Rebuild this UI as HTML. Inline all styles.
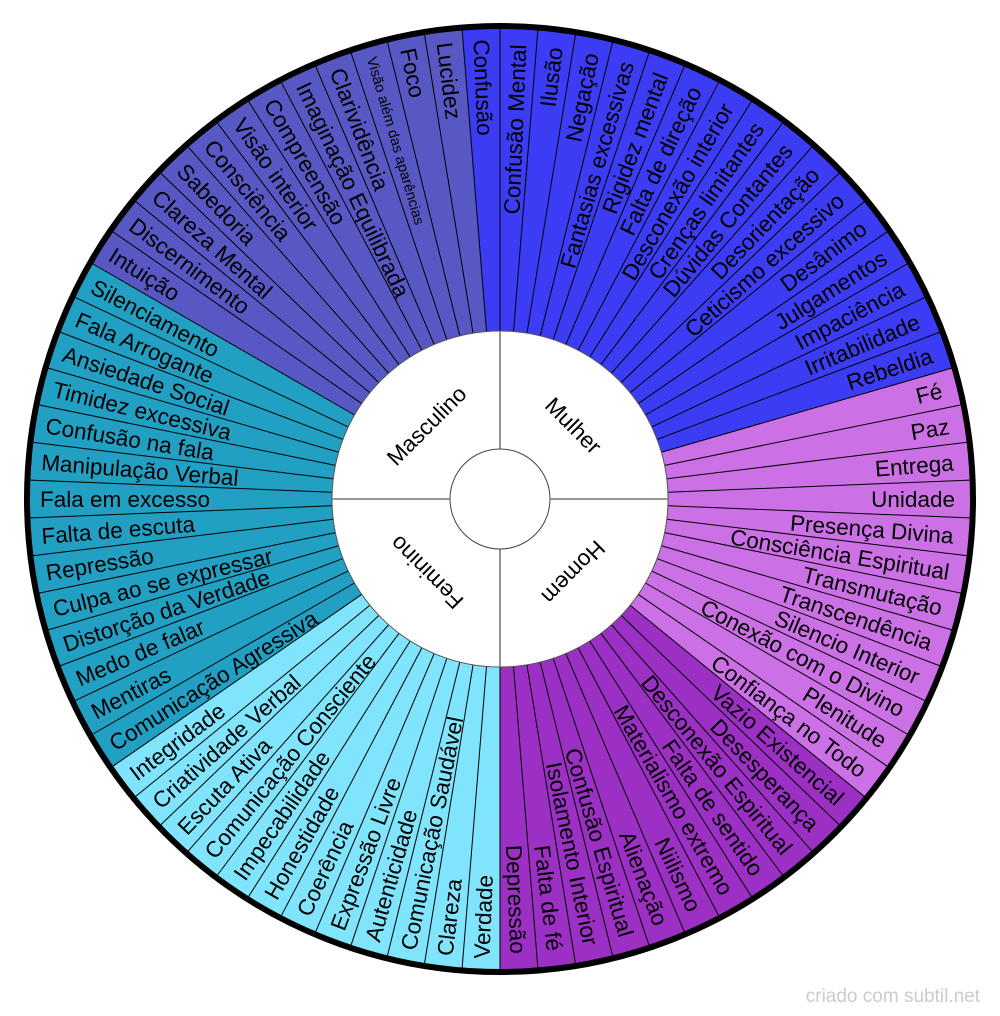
<!DOCTYPE html>
<html><head><meta charset="utf-8"><style>
html,body{margin:0;padding:0;background:#fff;}
svg{display:block;}
text{font-family:"Liberation Sans",Arial,sans-serif;fill:#000;}
.r{font-size:22.5px;text-anchor:end;}
.l{font-size:22.5px;text-anchor:start;}
</style></head><body>
<svg width="1000" height="1016" viewBox="0 0 1000 1016" xmlns="http://www.w3.org/2000/svg">
<path d="M500,499 L461.94,27.53 A473,473 0 0 1 954.33,367.4 Z" fill="#3c3cf5"/>
<path d="M500,499 L954.33,367.4 A473,473 0 0 1 866.41,798.14 Z" fill="#cc70e6"/>
<path d="M500,499 L866.41,798.14 A473,473 0 0 1 500,972 Z" fill="#9c30c4"/>
<path d="M500,499 L500,972 A473,473 0 0 1 110.73,767.69 Z" fill="#80e4fc"/>
<path d="M500,499 L110.73,767.69 A473,473 0 0 1 90.37,262.5 Z" fill="#22a0c4"/>
<path d="M500,499 L90.37,262.5 A473,473 0 0 1 461.94,27.53 Z" fill="#5858c4"/>
<g stroke="#000" stroke-width="1">
<line x1="500" y1="331" x2="500" y2="26" transform="rotate(0 500 499)"/>
<line x1="500" y1="331" x2="500" y2="26" transform="rotate(4.615 500 499)"/>
<line x1="500" y1="331" x2="500" y2="26" transform="rotate(9.231 500 499)"/>
<line x1="500" y1="331" x2="500" y2="26" transform="rotate(13.846 500 499)"/>
<line x1="500" y1="331" x2="500" y2="26" transform="rotate(18.462 500 499)"/>
<line x1="500" y1="331" x2="500" y2="26" transform="rotate(23.077 500 499)"/>
<line x1="500" y1="331" x2="500" y2="26" transform="rotate(27.692 500 499)"/>
<line x1="500" y1="331" x2="500" y2="26" transform="rotate(32.308 500 499)"/>
<line x1="500" y1="331" x2="500" y2="26" transform="rotate(36.923 500 499)"/>
<line x1="500" y1="331" x2="500" y2="26" transform="rotate(41.538 500 499)"/>
<line x1="500" y1="331" x2="500" y2="26" transform="rotate(46.154 500 499)"/>
<line x1="500" y1="331" x2="500" y2="26" transform="rotate(50.769 500 499)"/>
<line x1="500" y1="331" x2="500" y2="26" transform="rotate(55.385 500 499)"/>
<line x1="500" y1="331" x2="500" y2="26" transform="rotate(60 500 499)"/>
<line x1="500" y1="331" x2="500" y2="26" transform="rotate(64.615 500 499)"/>
<line x1="500" y1="331" x2="500" y2="26" transform="rotate(69.231 500 499)"/>
<line x1="500" y1="331" x2="500" y2="26" transform="rotate(73.846 500 499)"/>
<line x1="500" y1="331" x2="500" y2="26" transform="rotate(78.462 500 499)"/>
<line x1="500" y1="331" x2="500" y2="26" transform="rotate(83.077 500 499)"/>
<line x1="500" y1="331" x2="500" y2="26" transform="rotate(87.692 500 499)"/>
<line x1="500" y1="331" x2="500" y2="26" transform="rotate(92.308 500 499)"/>
<line x1="500" y1="331" x2="500" y2="26" transform="rotate(96.923 500 499)"/>
<line x1="500" y1="331" x2="500" y2="26" transform="rotate(101.538 500 499)"/>
<line x1="500" y1="331" x2="500" y2="26" transform="rotate(106.154 500 499)"/>
<line x1="500" y1="331" x2="500" y2="26" transform="rotate(110.769 500 499)"/>
<line x1="500" y1="331" x2="500" y2="26" transform="rotate(115.385 500 499)"/>
<line x1="500" y1="331" x2="500" y2="26" transform="rotate(120 500 499)"/>
<line x1="500" y1="331" x2="500" y2="26" transform="rotate(124.615 500 499)"/>
<line x1="500" y1="331" x2="500" y2="26" transform="rotate(129.231 500 499)"/>
<line x1="500" y1="331" x2="500" y2="26" transform="rotate(133.846 500 499)"/>
<line x1="500" y1="331" x2="500" y2="26" transform="rotate(138.462 500 499)"/>
<line x1="500" y1="331" x2="500" y2="26" transform="rotate(143.077 500 499)"/>
<line x1="500" y1="331" x2="500" y2="26" transform="rotate(147.692 500 499)"/>
<line x1="500" y1="331" x2="500" y2="26" transform="rotate(152.308 500 499)"/>
<line x1="500" y1="331" x2="500" y2="26" transform="rotate(156.923 500 499)"/>
<line x1="500" y1="331" x2="500" y2="26" transform="rotate(161.538 500 499)"/>
<line x1="500" y1="331" x2="500" y2="26" transform="rotate(166.154 500 499)"/>
<line x1="500" y1="331" x2="500" y2="26" transform="rotate(170.769 500 499)"/>
<line x1="500" y1="331" x2="500" y2="26" transform="rotate(175.385 500 499)"/>
<line x1="500" y1="331" x2="500" y2="26" transform="rotate(180 500 499)"/>
<line x1="500" y1="331" x2="500" y2="26" transform="rotate(184.615 500 499)"/>
<line x1="500" y1="331" x2="500" y2="26" transform="rotate(189.231 500 499)"/>
<line x1="500" y1="331" x2="500" y2="26" transform="rotate(193.846 500 499)"/>
<line x1="500" y1="331" x2="500" y2="26" transform="rotate(198.462 500 499)"/>
<line x1="500" y1="331" x2="500" y2="26" transform="rotate(203.077 500 499)"/>
<line x1="500" y1="331" x2="500" y2="26" transform="rotate(207.692 500 499)"/>
<line x1="500" y1="331" x2="500" y2="26" transform="rotate(212.308 500 499)"/>
<line x1="500" y1="331" x2="500" y2="26" transform="rotate(216.923 500 499)"/>
<line x1="500" y1="331" x2="500" y2="26" transform="rotate(221.538 500 499)"/>
<line x1="500" y1="331" x2="500" y2="26" transform="rotate(226.154 500 499)"/>
<line x1="500" y1="331" x2="500" y2="26" transform="rotate(230.769 500 499)"/>
<line x1="500" y1="331" x2="500" y2="26" transform="rotate(235.385 500 499)"/>
<line x1="500" y1="331" x2="500" y2="26" transform="rotate(240 500 499)"/>
<line x1="500" y1="331" x2="500" y2="26" transform="rotate(244.615 500 499)"/>
<line x1="500" y1="331" x2="500" y2="26" transform="rotate(249.231 500 499)"/>
<line x1="500" y1="331" x2="500" y2="26" transform="rotate(253.846 500 499)"/>
<line x1="500" y1="331" x2="500" y2="26" transform="rotate(258.462 500 499)"/>
<line x1="500" y1="331" x2="500" y2="26" transform="rotate(263.077 500 499)"/>
<line x1="500" y1="331" x2="500" y2="26" transform="rotate(267.692 500 499)"/>
<line x1="500" y1="331" x2="500" y2="26" transform="rotate(272.308 500 499)"/>
<line x1="500" y1="331" x2="500" y2="26" transform="rotate(276.923 500 499)"/>
<line x1="500" y1="331" x2="500" y2="26" transform="rotate(281.538 500 499)"/>
<line x1="500" y1="331" x2="500" y2="26" transform="rotate(286.154 500 499)"/>
<line x1="500" y1="331" x2="500" y2="26" transform="rotate(290.769 500 499)"/>
<line x1="500" y1="331" x2="500" y2="26" transform="rotate(295.385 500 499)"/>
<line x1="500" y1="331" x2="500" y2="26" transform="rotate(300 500 499)"/>
<line x1="500" y1="331" x2="500" y2="26" transform="rotate(304.615 500 499)"/>
<line x1="500" y1="331" x2="500" y2="26" transform="rotate(309.231 500 499)"/>
<line x1="500" y1="331" x2="500" y2="26" transform="rotate(313.846 500 499)"/>
<line x1="500" y1="331" x2="500" y2="26" transform="rotate(318.462 500 499)"/>
<line x1="500" y1="331" x2="500" y2="26" transform="rotate(323.077 500 499)"/>
<line x1="500" y1="331" x2="500" y2="26" transform="rotate(327.692 500 499)"/>
<line x1="500" y1="331" x2="500" y2="26" transform="rotate(332.308 500 499)"/>
<line x1="500" y1="331" x2="500" y2="26" transform="rotate(336.923 500 499)"/>
<line x1="500" y1="331" x2="500" y2="26" transform="rotate(341.538 500 499)"/>
<line x1="500" y1="331" x2="500" y2="26" transform="rotate(346.154 500 499)"/>
<line x1="500" y1="331" x2="500" y2="26" transform="rotate(350.769 500 499)"/>
<line x1="500" y1="331" x2="500" y2="26" transform="rotate(355.385 500 499)"/>
</g>
<text class="r" x="955" y="507" transform="rotate(-87.69 500 499)">Confusão Mental</text>
<text class="r" x="955" y="507" transform="rotate(-83.08 500 499)">Ilusão</text>
<text class="r" x="955" y="507" transform="rotate(-78.46 500 499)">Negação</text>
<text class="r" x="955" y="507" transform="rotate(-73.85 500 499)">Fantasias excessivas</text>
<text class="r" x="955" y="507" transform="rotate(-69.23 500 499)">Rigidez mental</text>
<text class="r" x="955" y="507" transform="rotate(-64.62 500 499)">Falta de direção</text>
<text class="r" x="955" y="507" transform="rotate(-60 500 499)">Desconexão interior</text>
<text class="r" x="955" y="507" transform="rotate(-55.38 500 499)">Crenças limitantes</text>
<text class="r" x="955" y="507" transform="rotate(-50.77 500 499)">Dúvidas Contantes</text>
<text class="r" x="955" y="507" transform="rotate(-46.15 500 499)">Desorientação</text>
<text class="r" x="955" y="507" transform="rotate(-41.54 500 499)">Ceticismo excessivo</text>
<text class="r" x="955" y="507" transform="rotate(-36.92 500 499)">Desânimo</text>
<text class="r" x="955" y="507" transform="rotate(-32.31 500 499)">Julgamentos</text>
<text class="r" x="955" y="507" transform="rotate(-27.69 500 499)">Impaciência</text>
<text class="r" x="955" y="507" transform="rotate(-23.08 500 499)">Irritabilidade</text>
<text class="r" x="955" y="507" transform="rotate(-18.46 500 499)">Rebeldia</text>
<text class="r" x="955" y="507" transform="rotate(-13.85 500 499)">Fé</text>
<text class="r" x="955" y="507" transform="rotate(-9.23 500 499)">Paz</text>
<text class="r" x="955" y="507" transform="rotate(-4.62 500 499)">Entrega</text>
<text class="r" x="955" y="507" transform="rotate(0 500 499)">Unidade</text>
<text class="r" x="955" y="507" transform="rotate(4.62 500 499)">Presença Divina</text>
<text class="r" x="955" y="507" transform="rotate(9.23 500 499)">Consciência Espiritual</text>
<text class="r" x="955" y="507" transform="rotate(13.85 500 499)">Transmutação</text>
<text class="r" x="955" y="507" transform="rotate(18.46 500 499)">Transcendência</text>
<text class="r" x="955" y="507" transform="rotate(23.08 500 499)">Silencio Interior</text>
<text class="r" x="955" y="507" transform="rotate(27.69 500 499)">Conexão com o Divino</text>
<text class="r" x="955" y="507" transform="rotate(32.31 500 499)">Plenitude</text>
<text class="r" x="955" y="507" transform="rotate(36.92 500 499)">Confiança no Todo</text>
<text class="r" x="955" y="507" transform="rotate(41.54 500 499)">Vazio Existencial</text>
<text class="r" x="955" y="507" transform="rotate(46.15 500 499)">Desesperança</text>
<text class="r" x="955" y="507" transform="rotate(50.77 500 499)">Desconexão Espiritual</text>
<text class="r" x="955" y="507" transform="rotate(55.38 500 499)">Falta de sentido</text>
<text class="r" x="955" y="507" transform="rotate(60 500 499)">Materialismo extremo</text>
<text class="r" x="955" y="507" transform="rotate(64.62 500 499)">Niilismo</text>
<text class="r" x="955" y="507" transform="rotate(69.23 500 499)">Alienação</text>
<text class="r" x="955" y="507" transform="rotate(73.85 500 499)">Confusão Espiritual</text>
<text class="r" x="955" y="507" transform="rotate(78.46 500 499)">Isolamento Interior</text>
<text class="r" x="955" y="507" transform="rotate(83.08 500 499)">Falta de fé</text>
<text class="r" x="955" y="507" transform="rotate(87.69 500 499)">Depressão</text>
<text class="l" x="40" y="507" transform="rotate(-87.69 500 499)">Verdade</text>
<text class="l" x="40" y="507" transform="rotate(-83.08 500 499)">Clareza</text>
<text class="l" x="40" y="507" transform="rotate(-78.46 500 499)">Comunicação Saudável</text>
<text class="l" x="40" y="507" transform="rotate(-73.85 500 499)">Autenticidade</text>
<text class="l" x="40" y="507" transform="rotate(-69.23 500 499)">Expressão Livre</text>
<text class="l" x="40" y="507" transform="rotate(-64.62 500 499)">Coerência</text>
<text class="l" x="40" y="507" transform="rotate(-60 500 499)">Honestidade</text>
<text class="l" x="40" y="507" transform="rotate(-55.38 500 499)">Impecabilidade</text>
<text class="l" x="40" y="507" transform="rotate(-50.77 500 499)">Comunicação Consciente</text>
<text class="l" x="40" y="507" transform="rotate(-46.15 500 499)">Escuta Ativa</text>
<text class="l" x="40" y="507" transform="rotate(-41.54 500 499)">Criatividade Verbal</text>
<text class="l" x="40" y="507" transform="rotate(-36.92 500 499)">Integridade</text>
<text class="l" x="40" y="507" transform="rotate(-32.31 500 499)">Comunicação Agressiva</text>
<text class="l" x="40" y="507" transform="rotate(-27.69 500 499)">Mentiras</text>
<text class="l" x="40" y="507" transform="rotate(-23.08 500 499)">Medo de falar</text>
<text class="l" x="40" y="507" transform="rotate(-18.46 500 499)">Distorção da Verdade</text>
<text class="l" x="40" y="507" transform="rotate(-13.85 500 499)">Culpa ao se expressar</text>
<text class="l" x="40" y="507" transform="rotate(-9.23 500 499)">Repressão</text>
<text class="l" x="40" y="507" transform="rotate(-4.62 500 499)">Falta de escuta</text>
<text class="l" x="40" y="507" transform="rotate(0 500 499)">Fala em excesso</text>
<text class="l" x="40" y="507" transform="rotate(4.62 500 499)">Manipulação Verbal</text>
<text class="l" x="40" y="507" transform="rotate(9.23 500 499)">Confusão na fala</text>
<text class="l" x="40" y="507" transform="rotate(13.85 500 499)">Timidez excessiva</text>
<text class="l" x="40" y="507" transform="rotate(18.46 500 499)">Ansiedade Social</text>
<text class="l" x="40" y="507" transform="rotate(23.08 500 499)">Fala Arrogante</text>
<text class="l" x="40" y="507" transform="rotate(27.69 500 499)">Silenciamento</text>
<text class="l" x="40" y="507" transform="rotate(32.31 500 499)">Intuição</text>
<text class="l" x="40" y="507" transform="rotate(36.92 500 499)">Discernimento</text>
<text class="l" x="40" y="507" transform="rotate(41.54 500 499)">Clareza Mental</text>
<text class="l" x="40" y="507" transform="rotate(46.15 500 499)">Sabedoria</text>
<text class="l" x="40" y="507" transform="rotate(50.77 500 499)">Consciência</text>
<text class="l" x="40" y="507" transform="rotate(55.38 500 499)">Visão interior</text>
<text class="l" x="40" y="507" transform="rotate(60 500 499)">Compreensão</text>
<text class="l" x="40" y="507" transform="rotate(64.62 500 499)">Imaginação Equilibrada</text>
<text class="l" x="40" y="507" transform="rotate(69.23 500 499)">Clarividência</text>
<text class="l" x="40" y="504.5" transform="rotate(73.85 500 499)" style="font-size:14.5px">Visão além das aparências</text>
<text class="l" x="40" y="507" transform="rotate(78.46 500 499)">Foco</text>
<text class="l" x="40" y="507" transform="rotate(83.08 500 499)">Lucidez</text>
<text class="l" x="40" y="507" transform="rotate(87.69 500 499)">Confusão</text>
<circle cx="500" cy="499" r="473" fill="none" stroke="#000" stroke-width="6"/>
<circle cx="500" cy="499" r="168" fill="#fff" stroke="#555" stroke-width="1"/>
<g stroke="#777" stroke-width="1.6">
<line x1="332" y1="499" x2="450" y2="499"/>
<line x1="550" y1="499" x2="668" y2="499"/>
<line x1="500" y1="331" x2="500" y2="449"/>
<line x1="500" y1="549" x2="500" y2="667"/>
</g>
<circle cx="500" cy="499" r="50" fill="#fff" stroke="#444" stroke-width="1"/>
<g style="font-size:22.5px;text-anchor:middle">
<text x="500" y="403" transform="rotate(-45 500 499)">Masculino</text>
<text x="500" y="403" transform="rotate(45 500 499)">Mulher</text>
<text x="500" y="403" transform="rotate(135 500 499)">Homem</text>
<text x="500" y="403" transform="rotate(-135 500 499)">Feminino</text>
</g>
<text x="980" y="1002" style="font-size:19px;text-anchor:end;fill:#cccccc">criado com subtil.net</text>
</svg>
</body></html>
